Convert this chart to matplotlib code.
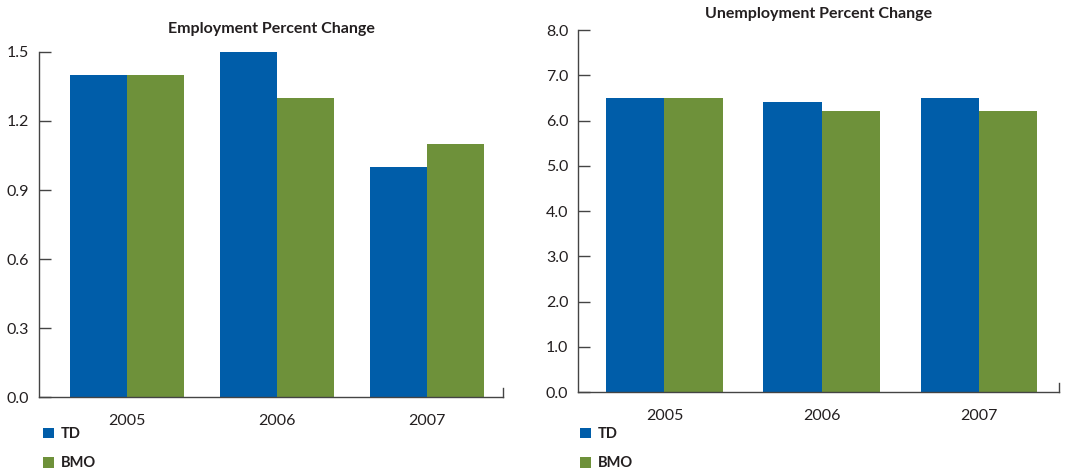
import numpy as np
import matplotlib
matplotlib.use("Agg")
import matplotlib.pyplot as plt

# data
years = ["2005", "2006", "2007"]
emp_td = [1.4, 1.5, 1.0]
emp_bmo = [1.4, 1.3, 1.1]
unemp_td = [6.5, 6.4, 6.5]
unemp_bmo = [6.5, 6.2, 6.2]
emp_ticks = [0.0, 0.3, 0.6, 0.9, 1.2, 1.5]
unemp_ticks = [0.0, 1.0, 2.0, 3.0, 4.0, 5.0, 6.0, 7.0, 8.0]
series_names = ["TD", "BMO"]

blue = "#005DA9"
green = "#6E913A"
txt = "#231F20"
spine_col = "#444444"

plt.rcParams["font.family"] = ["Lato", "DejaVu Sans"]

fig = plt.figure(figsize=(10.87, 4.71), dpi=100)
ax1 = fig.add_axes([0.0359, 0.1571, 0.4269, 0.7325])
ax2 = fig.add_axes([0.5317, 0.1677, 0.4425, 0.7686])


def draw(ax, td, bmo, ticks, title, width, xlim, title_pad, leg_x):
    x = np.arange(len(years))
    b1 = ax.bar(x - width / 2, td, width, color=blue, label=series_names[0])
    b2 = ax.bar(x + width / 2, bmo, width, color=green, label=series_names[1])
    ax.set_xlim(*xlim)
    ax.set_ylim(ticks[0], ticks[-1])
    ax.set_yticks(ticks)
    ax.set_yticklabels([f"{t:.1f}" for t in ticks], fontsize=11.5, color=txt)
    ax.set_xticks(x)
    ax.set_xticklabels(years, fontsize=11.5, color=txt)
    ax.tick_params(axis="x", length=0, pad=12)
    ax.tick_params(axis="y", direction="in", length=8.5, width=1, color=spine_col, pad=7)
    for s in ["top", "right"]:
        ax.spines[s].set_visible(False)
    for s in ["left", "bottom"]:
        ax.spines[s].set_color(spine_col)
        ax.spines[s].set_linewidth(1)
    # small end tick at the right of the baseline
    ax.plot([1, 1], [0, 0.025], transform=ax.transAxes, color=spine_col, lw=1, clip_on=False)
    ax.set_title(title, fontsize=11.5, fontweight="bold", color=txt, pad=title_pad)
    leg = ax.legend(handles=[b1, b2], loc="upper left", bbox_to_anchor=(leg_x, 0.0934),
                    bbox_transform=fig.transFigure, frameon=False, borderpad=0,
                    borderaxespad=0, handlelength=0.75, handleheight=0.75,
                    handletextpad=0.45, labelspacing=1.05,
                    prop={"size": 10.5, "weight": "bold"})
    for t in leg.get_texts():
        t.set_color(txt)


draw(ax1, emp_td, emp_bmo, emp_ticks, "Employment Percent Change", 0.38, (-0.59, 2.51), 14, 0.0396)
draw(ax2, unemp_td, unemp_bmo, unemp_ticks, "Unemployment Percent Change", 0.37, (-0.55, 2.51), 9, 0.5336)

fig.savefig("out.png", dpi=100)
